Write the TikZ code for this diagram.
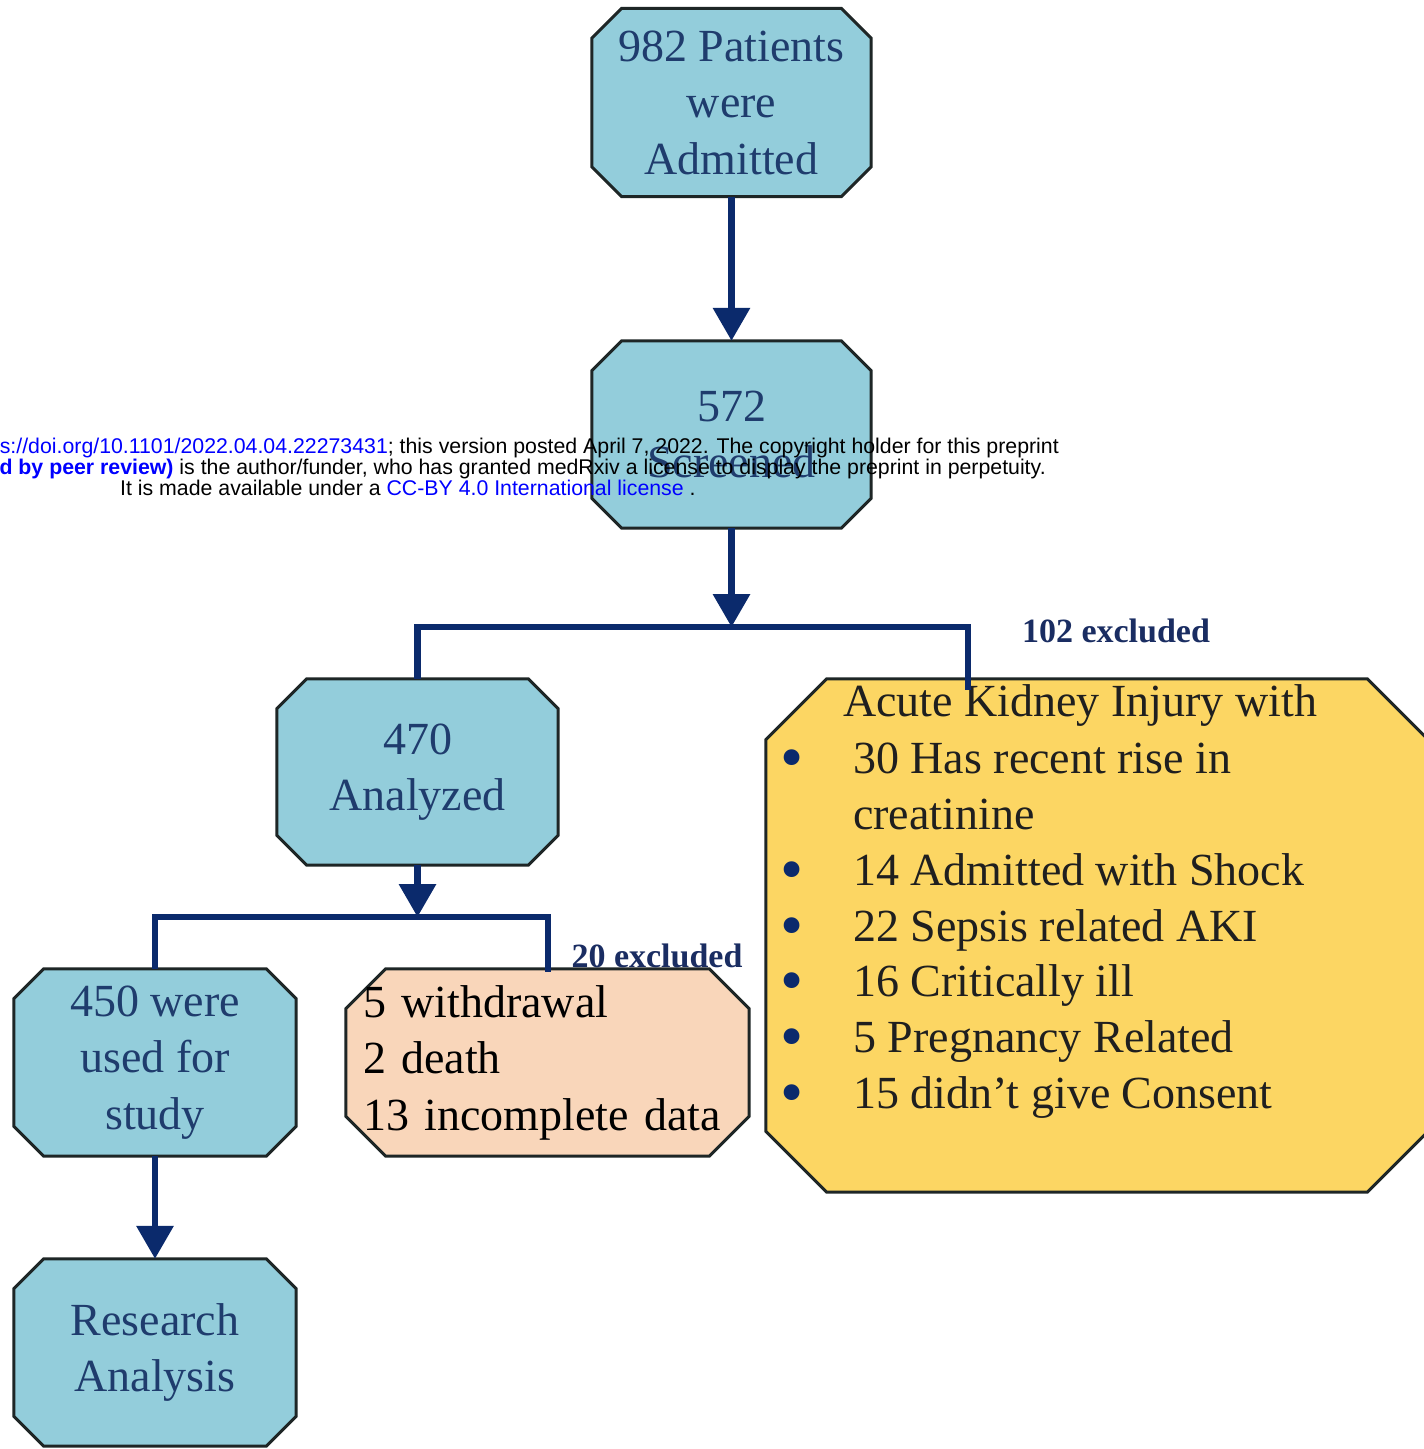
\documentclass[tikz,border=0pt]{standalone}
\usepackage{fontspec}
\setmainfont{Liberation Serif}
\newfontfamily\wmfont{Liberation Sans}
\usetikzlibrary{arrows.meta,backgrounds}
\definecolor{boxblue}{HTML}{93CDDB}
\definecolor{boxyellow}{HTML}{FCD663}
\definecolor{boxpeach}{HTML}{F9D6BA}
\definecolor{edgecol}{HTML}{1E2626}
\definecolor{navy}{HTML}{0B2A6C}
\definecolor{txtnavy}{HTML}{1F3C6D}
\definecolor{lblnavy}{HTML}{1A2D62}
\definecolor{wmblue}{RGB}{0,0,255}
\newcommand\chbox[3]{%
  \filldraw[boxline, fill=#3]
    ([xshift=#2]#1.north west) -- ([xshift=-#2]#1.north east)
    -- ([yshift=-#2]#1.north east) -- ([yshift=#2]#1.south east)
    -- ([xshift=-#2]#1.south east) -- ([xshift=#2]#1.south west)
    -- ([yshift=#2]#1.south west) -- ([yshift=-#2]#1.north west) -- cycle;}
\newcommand\akibul{\llap{\raisebox{-6pt}{\fontsize{66}{66}\selectfont\textcolor{navy}{•}}\hspace{50pt}}}
\begin{document}
\begin{tikzpicture}[x=1pt,y=-1pt,
  boxline/.style={draw=edgecol, line width=3pt, line join=miter},
  bluebox/.style={draw=none, inner sep=0pt, align=center, text=txtnavy,
    font=\fontsize{46}{56.5}\selectfont},
  conn/.style={draw=navy, line width=6.5pt, line join=miter},
  arrowtip/.style={-{Triangle[width=36pt,length=33pt]}},
  excl/.style={text=lblnavy, font=\fontsize{34}{40}\selectfont\bfseries, inner sep=0pt},
  akiline/.style={anchor=base west, inner sep=0pt, text=black!88,
    font=\fontsize{46}{56}\selectfont},
  wm/.style={inner sep=0pt, font=\wmfont\fontsize{21.3}{21}\selectfont}]

\path[use as bounding box] (0,0) rectangle (1424,1449);

% boxes
\node[bluebox, minimum width=279pt, minimum height=188pt] (adm) at (731.5,102.5)
  {982 Patients\\were\\Admitted};
\node[bluebox, minimum width=279pt, minimum height=187pt] (scr) at (731.5,434.5)
  {572\\Screened};
\node[bluebox, minimum width=281pt, minimum height=186pt] (ana) at (417.5,772)
  {470\\Analyzed};
\node[bluebox, minimum width=282pt, minimum height=187pt] (used) at (155,1062.5)
  {450 were\\used for\\study};
\node[bluebox, minimum width=282pt, minimum height=187pt] (res) at (155,1352.5)
  {Research\\Analysis};
\node[draw=none, inner xsep=17pt, inner ysep=0pt, text width=369pt, align=left,
  minimum height=187pt, text=black, font=\fontsize{46}{56.5}\selectfont]
  (peach) at (547.5,1062.5)
  {5 withdrawal\\2 death\\13 incomplete data};
\node[draw=none, inner sep=0pt, minimum width=662pt, minimum height=513pt]
  (aki) at (1097,935.5) {};

\begin{scope}[on background layer]
  \fill[white] (0,0) rectangle (1424,1449);
  \chbox{adm}{30pt}{boxblue}
  \chbox{scr}{30pt}{boxblue}
  \chbox{ana}{30pt}{boxblue}
  \chbox{used}{30pt}{boxblue}
  \chbox{res}{30pt}{boxblue}
  \chbox{peach}{40pt}{boxpeach}
  \chbox{aki}{61pt}{boxyellow}
\end{scope}

% AKI text
\node[akiline] (ak0) at (843,716) {Acute Kidney Injury with};
\node[akiline] (ak1) at (853,773) {\akibul 30 Has recent rise in};
\node[akiline] (ak2) at (853,829) {creatinine};
\node[akiline] (ak3) at (853,885) {\akibul 14 Admitted with Shock};
\node[akiline] (ak4) at (853,941) {\akibul 22 Sepsis related AKI};
\node[akiline] (ak5) at (853,996) {\akibul 16 Critically ill};
\node[akiline] (ak6) at (853,1052) {\akibul 5 Pregnancy Related};
\node[akiline] (ak7) at (853,1108) {\akibul 15 didn’t give Consent};

% labels
\node[excl] (lab102) at (1116,631) {102 excluded};
\node[excl] (lab20) at (657,956) {20 excluded};

% connectors
\coordinate (j1) at (731.5,627);
\coordinate (akiin) at (968,690);
\coordinate (j2) at (417.5,917);
\coordinate (pein) at (548,972);

\draw[conn, arrowtip] (adm.south) -- (scr.north);
\draw[conn, arrowtip] (scr.south) -- (j1);
\draw[conn] (ana.north) |- (j1) -| (akiin);
\draw[conn, arrowtip] (ana.south) -- (j2);
\draw[conn] (used.north) |- (j2) -| (pein);
\draw[conn, arrowtip] (used.south) -- (res.north);

% preprint overlay
\node[wm, anchor=base east] (wm1) at (1059,453)
  {\textcolor{wmblue}{s://doi.org/10.1101/2022.04.04.22273431}; this version posted April 7, 2022. The copyright holder for this preprint};
\node[wm, anchor=base east] (wm2) at (1046,474)
  {\textcolor{wmblue}{\bfseries d by peer review)} is the author/funder, who has granted medRxiv a license to display the preprint in perpetuity.};
\node[wm, anchor=base west] (wm3) at (120,495)
  {It is made available under a \textcolor{wmblue}{CC-BY 4.0 International license} .};
\end{tikzpicture}
\end{document}
